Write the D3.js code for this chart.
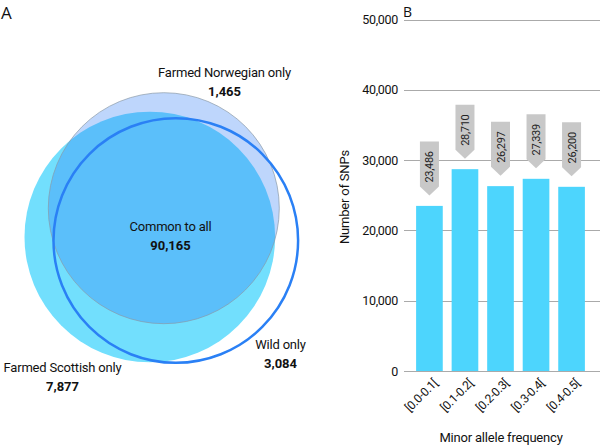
<!DOCTYPE html>
<html><head><meta charset="utf-8">
<script src="https://cdn.jsdelivr.net/npm/d3@7/dist/d3.min.js"></script>
<style>
body{margin:0;background:#fff;}
text{font-family:Roboto,"Liberation Sans",sans-serif;fill:#111;}
</style></head>
<body>
<svg id="c" width="600" height="448"></svg>
<script>
// Bar chart data
const categories = ["[0.0-0.1[", "[0.1-0.2[", "[0.2-0.3[", "[0.3-0.4[", "[0.4-0.5["];
const snpCounts = [23486, 28710, 26297, 27339, 26200];
const yTicks = [0, 10000, 20000, 30000, 40000, 50000];
// Venn data
const vennSets = ["Farmed Norwegian", "Farmed Scottish", "Wild"];
const vennLabels = ["Farmed Norwegian only", "Farmed Scottish only", "Wild only", "Common to all"];
const vennCounts = [1465, 7877, 3084, 90165];

const svg = d3.select("#c");
const fmt = d3.format(",");

// Panel letters
svg.append("text").attr("x", 1).attr("y", 19).style("font-family", "'Open Sans',sans-serif").style("font-size", "17px").text("A");
svg.append("text").attr("x", 403).attr("y", 17).style("font-family", "'Open Sans',sans-serif").style("font-size", "14px").text("B");

// ---- Venn (panel A) ----
const circles = [
  {name: vennSets[1], cx: 149.8, cy: 237, r: 125.3},
  {name: vennSets[0], cx: 163.8, cy: 208.2, r: 115.5},
  {name: vennSets[2], cx: 175.8, cy: 240.5, r: 122.3}
];
const gA = svg.append("g");
gA.append("circle").attr("cx", circles[0].cx).attr("cy", circles[0].cy).attr("r", circles[0].r)
  .attr("fill", "#72dffd");
gA.append("circle").attr("cx", circles[1].cx).attr("cy", circles[1].cy).attr("r", circles[1].r)
  .attr("fill", "rgb(40,120,245)").attr("fill-opacity", 0.3)
  .attr("stroke", "#8a9aa8").attr("stroke-width", 0.7);
gA.append("circle").attr("cx", circles[2].cx).attr("cy", circles[2].cy).attr("r", circles[2].r)
  .attr("fill", "none").attr("stroke", "#2a80f5").attr("stroke-width", 2.5);

const vennText = [
  {label: vennLabels[0], value: vennCounts[0], x: 224.5, y: 77},
  {label: vennLabels[1], value: vennCounts[1], x: 62.5, y: 372},
  {label: vennLabels[2], value: vennCounts[2], x: 280.5, y: 349},
  {label: vennLabels[3], value: vennCounts[3], x: 170.5, y: 231}
];
vennText.forEach(d => {
  gA.append("text").attr("x", d.x).attr("y", d.y).attr("text-anchor", "middle")
    .style("font-size", "13px").style("letter-spacing", "-0.2px").text(d.label);
  gA.append("text").attr("x", d.x).attr("y", d.y + 19).attr("text-anchor", "middle")
    .style("font-size", "13px").style("font-weight", "bold").text(fmt(d.value));
});

// ---- Bar chart (panel B) ----
const y = d3.scaleLinear().domain([0, 50000]).range([371, 19.5]);
const x = d3.scaleBand().domain(categories).range([409, 592]).paddingInner(0.25).paddingOuter(0.2);
const gB = svg.append("g");

gB.selectAll("line.grid").data(yTicks).enter().append("line")
  .attr("x1", 404).attr("x2", 600)
  .attr("y1", d => Math.round(y(d)) + 0.5).attr("y2", d => Math.round(y(d)) + 0.5)
  .attr("stroke", "#aaaaaa").attr("stroke-width", 1);
gB.selectAll("text.ytick").data(yTicks).enter().append("text")
  .attr("x", 398).attr("y", d => y(d) + 4.5).attr("text-anchor", "end")
  .style("font-size", "12.5px").style("letter-spacing", "-0.3px").text(d => fmt(d));

gB.selectAll("rect.bar").data(snpCounts).enter().append("rect")
  .attr("x", (d, i) => x(categories[i])).attr("width", x.bandwidth())
  .attr("y", d => y(d)).attr("height", d => y(0) - y(d))
  .attr("fill", "#4dd5fd");

// callouts
const cw = 19, rectH = 45, arrowH = 9, gap = 10.5;
snpCounts.forEach((d, i) => {
  const cx = x(categories[i]) + x.bandwidth() / 2;
  const tip = y(d) - gap;
  const top = tip - arrowH - rectH;
  const p = d3.path();
  p.moveTo(cx - cw / 2, top);
  p.lineTo(cx + cw / 2, top);
  p.lineTo(cx + cw / 2, top + rectH);
  p.lineTo(cx, tip);
  p.lineTo(cx - cw / 2, top + rectH);
  p.closePath();
  gB.append("path").attr("d", p.toString()).attr("fill", "#c8c8c8");
  gB.append("text").attr("transform", `translate(${cx + 4},${top + rectH / 2 + 3}) rotate(-90)`)
    .attr("text-anchor", "middle").style("font-size", "11px").style("letter-spacing", "-0.3px")
    .style("fill", "#222").text(fmt(d));
});

// x tick labels
categories.forEach(c => {
  const cx = x(c) + x.bandwidth() / 2;
  gB.append("text").attr("transform", `translate(${cx + 9},${384}) rotate(-45)`)
    .attr("text-anchor", "end").style("font-size", "12px").style("letter-spacing", "-0.3px").text(c);
});

gB.append("text").attr("transform", "translate(349,197) rotate(-90)").attr("text-anchor", "middle")
  .style("font-size", "13px").style("letter-spacing", "-0.2px").text("Number of SNPs");
gB.append("text").attr("x", 501).attr("y", 442).attr("text-anchor", "middle")
  .style("font-size", "13px").style("letter-spacing", "-0.2px").text("Minor allele frequency");
</script>
</body></html>
